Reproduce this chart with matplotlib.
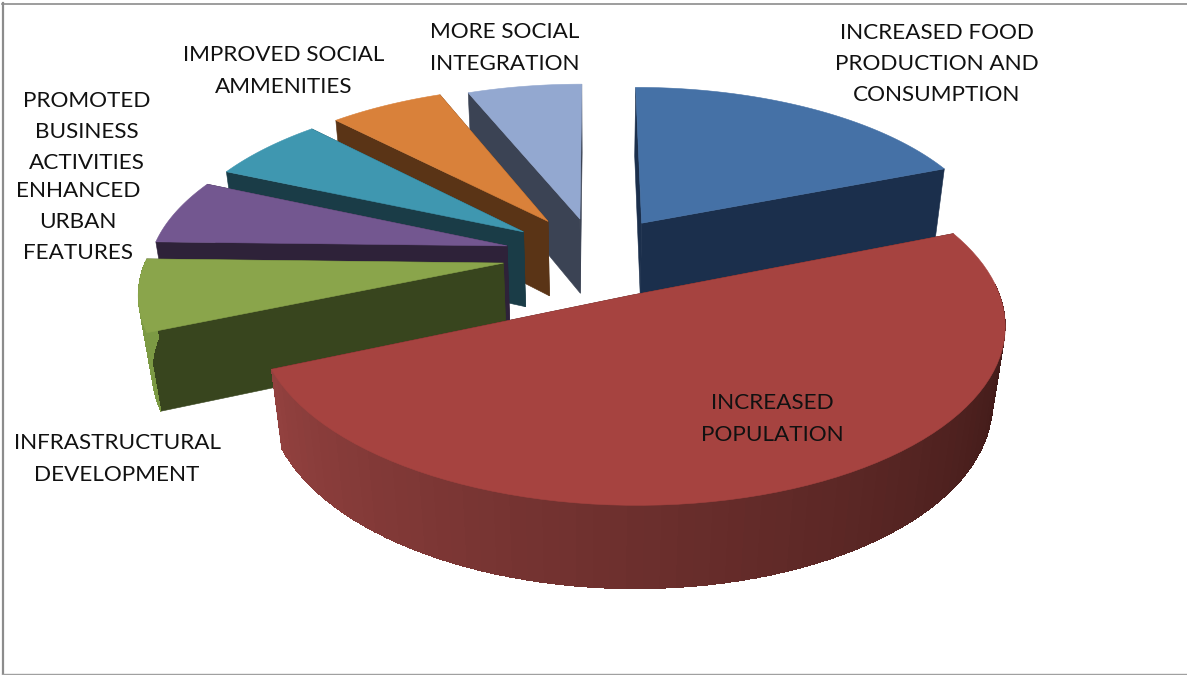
import numpy as np
import matplotlib
matplotlib.use("Agg")
import matplotlib.pyplot as plt
from matplotlib.colors import to_rgb
from matplotlib.patches import Polygon

plt.rcParams['font.family'] = ['Lato', 'DejaVu Sans']

# percent shares, clockwise from 12 o'clock
names = ["food", "population", "infrastructure", "urban", "business", "amenities", "integration"]
values = [19, 49.6, 6.8, 6.2, 6.2, 6.1, 6.1]
explode = [0.24, 0.255, 0.26, 0.255, 0.25, 0.25, 0.23]
top_colors = ["#4571a6", "#a64340", "#8aa54b", "#735790", "#3f97b0", "#d9813a", "#93a8d0"]
wall_colors = ["#1b2f4c", "#451b18", "#38451e", "#2e2239", "#1a3c47", "#5a3416", "#3b4354"]
rim_left = ["#4571a6", "#954240", "#7c9a44", "#735790", "#3f97b0", "#d9813a", "#93a8d0"]
rim_right = ["#1b2f4c", "#3f1a18", "#38451e", "#2e2239", "#1a3c47", "#5a3416", "#3b4354"]

labels = [
    "INCREASED FOOD\nPRODUCTION AND\nCONSUMPTION",
    "INCREASED\nPOPULATION",
    "INFRASTRUCTURAL\nDEVELOPMENT",
    "ENHANCED\nURBAN\nFEATURES",
    "PROMOTED\nBUSINESS\nACTIVITIES",
    "IMPROVED SOCIAL\nAMMENITIES",
    "MORE SOCIAL\nINTEGRATION",
]
label_x = [937, 772, 117, 78, 87, 284, 505]
label_y = [64, 419, 459, 222, 132, 71, 48]

# camera
cx, cy = 595, 255
A, B = 356, 165
k = 0.15
T, q = 78, 0.03


def project(x, y, z):
    w = 1 + k * y + q * z
    return cx + A * x / w, cy + (-B * y + T * z) / w


def slice_points(a0, a1, off, z):
    ang = np.radians(np.linspace(a0, a1, 80))
    mid = np.radians((a0 + a1) / 2)
    ox, oy = off * np.sin(mid), off * np.cos(mid)
    return project(ox + np.sin(ang), oy + np.cos(ang), z), project(ox, oy, z)


def draw_slice(ax, a0, a1, off, top, wall, c_left, c_right):
    (tx, ty), (ax_t, ay_t) = slice_points(a0, a1, off, 0)
    (bx, by), (ax_b, ay_b) = slice_points(a0, a1, off, 1)

    # radial walls
    for i in (0, -1):
        ax.add_patch(Polygon([(ax_t, ay_t), (tx[i], ty[i]), (bx[i], by[i]), (ax_b, ay_b)],
                             fc=wall, ec=wall, lw=0.4))

    # outer rim in small strips, shaded by direction
    c0, c1 = np.array(to_rgb(c_left)), np.array(to_rgb(c_right))
    ang = np.linspace(a0, a1, 80)
    for i in range(len(ang) - 1):
        if not 85 < ang[i] < 270:
            continue
        t = np.clip((ang[i] - 250) / (100 - 250), 0, 1)
        col = c0 + (c1 - c0) * t
        j = min(i + 2, len(ang) - 1)
        ax.add_patch(Polygon([(tx[i], ty[i]), (tx[j], ty[j]), (bx[j], by[j]), (bx[i], by[i])],
                             fc=col, ec="none", antialiased=False))

    # top face
    ax.add_patch(Polygon(np.column_stack([np.r_[ax_t, tx], np.r_[ay_t, ty]]), fc=top, ec=top, lw=0.4))


fig = plt.figure(figsize=(11.87, 6.75), dpi=100)
ax = fig.add_axes([0, 0, 1, 1])
ax.set_xlim(0, 1187)
ax.set_ylim(675, 0)
ax.axis("off")

starts = np.r_[0, np.cumsum(values)[:-1]] * 3.6
ends = np.cumsum(values) * 3.6
for i in [0, 6, 5, 4, 3, 2, 1]:
    draw_slice(ax, starts[i], ends[i], explode[i], top_colors[i], wall_colors[i], rim_left[i], rim_right[i])

for s, lx, ly in zip(labels, label_x, label_y):
    ax.text(lx, ly, s, ha="center", va="center", fontsize=16.2, color="#111111", linespacing=1.71)

ax.plot([2.5, 2.5], [3, 673], color="#8c8c8c", lw=1.6)
ax.plot([2, 1187], [4, 4], color="#8c8c8c", lw=1.2)
ax.plot([2, 1187], [674, 674], color="#a0a0a0", lw=1.0)

fig.savefig("out.png", dpi=100)
